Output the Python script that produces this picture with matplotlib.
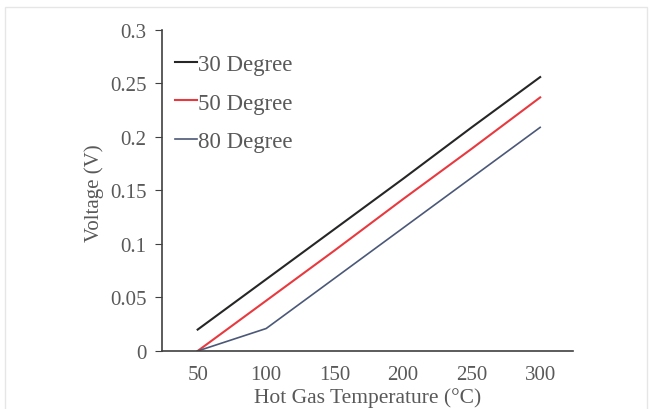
import matplotlib.pyplot as plt
from matplotlib.patches import Rectangle

# Data
temperature = [50, 100, 150, 200, 250, 300]
v_30 = [0.020, 0.067, 0.114, 0.161, 0.209, 0.256]
v_50 = [0.000, 0.047, 0.094, 0.142, 0.189, 0.237]
v_80 = [0.000, 0.021, 0.068, 0.115, 0.162, 0.209]
series_names = ["30 Degree", "50 Degree", "80 Degree"]
y_ticks = [0, 0.05, 0.1, 0.15, 0.2, 0.25, 0.3]
y_labels = ["0", "0.05", "0.1", "0.15", "0.2", "0.25", "0.3"]

plt.rcParams["font.family"] = ["Liberation Serif", "DejaVu Serif"]
text_color = "#595959"

fig = plt.figure(figsize=(6.52, 4.10), dpi=100)
ax = fig.add_axes([0.2485, 0.1415, 0.6304, 0.7829])

ax.plot(temperature, v_30, color="#262626", lw=1.5, label=series_names[0])
ax.plot(temperature, v_50, color="#e8393f", lw=1.5, label=series_names[1])
ax.plot(temperature, v_80, color="#4b5878", lw=1.2, label=series_names[2])

ax.set_xlim(24, 324)
ax.set_ylim(0, 0.3)
ax.set_xticks(temperature)
ax.set_yticks(y_ticks)
ax.set_yticklabels(y_labels)

for side in ["top", "right"]:
    ax.spines[side].set_visible(False)
for side in ["left", "bottom"]:
    ax.spines[side].set_color("#404040")
    ax.spines[side].set_linewidth(1.2)

ax.tick_params(axis="y", direction="out", length=5, color="#404040",
               labelsize=15, labelcolor=text_color, pad=6)
ax.tick_params(axis="x", length=0, labelsize=15, labelcolor=text_color, pad=10)

ax.set_xlabel("Hot Gas Temperature (°C)", fontsize=15.5, color=text_color, labelpad=2)
ax.set_ylabel("Voltage (V)", fontsize=15, color=text_color)
ax.yaxis.set_label_coords(-0.141, 0.495)

leg = ax.legend(loc="upper left", frameon=False, fontsize=16.5, handlelength=0.95,
                handletextpad=0.05, labelspacing=0.75, borderaxespad=0,
                bbox_to_anchor=(0.009, 0.953))
for t in leg.get_texts():
    t.set_color(text_color)

# light chart-area border
fig.patches.append(Rectangle((0.008, -0.02), 0.985, 1.0, transform=fig.transFigure,
                             fill=False, edgecolor="#e6e6e6", lw=1))

fig.savefig("out.png", dpi=100)
